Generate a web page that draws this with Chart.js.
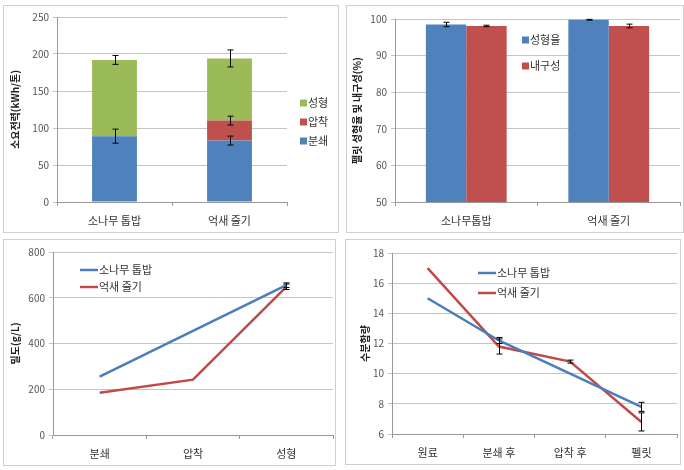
<!DOCTYPE html>
<html>
<head>
<meta charset="utf-8">
<script src="https://cdn.jsdelivr.net/npm/chart.js@4/dist/chart.umd.min.js"></script>
<style>
    body { margin: 0; background: #fff; }
    .frame { position: absolute; border: 1px solid #cfcfcf; box-sizing: border-box; }
    .frame canvas { display: block; }
</style>
</head>
<body>
<div class="frame" style="left:3px;top:5px;width:336px;height:228px"><canvas id="energyChart" width="334" height="226"></canvas></div>
<div class="frame" style="left:346px;top:5px;width:338px;height:228px"><canvas id="rateChart" width="336" height="226"></canvas></div>
<div class="frame" style="left:3px;top:239px;width:333px;height:227px"><canvas id="densityChart" width="331" height="225"></canvas></div>
<div class="frame" style="left:345px;top:239px;width:336px;height:226px"><canvas id="moistureChart" width="334" height="224"></canvas></div>
<script>
// chart 1: energy use (kWh/ton), stacked
const materials = ['소나무 톱밥', '억새 줄기'];
const crushEnergy = [89, 83];
const pressEnergy = [0, 27];
const formEnergy = [103, 84];
const crushEnergyErr = [9.5, 6];
const pressEnergyErr = [null, 6];
const formEnergyErr = [6, 11.5];

// chart 2: pellet forming rate and durability (%)
const rateMaterials = ['소나무톱밥', '억새 줄기'];
const formRate = [98.5, 99.8];
const durability = [98.1, 98.1];
const formRateErr = [0.6, 0.1];
const durabilityErr = [0.2, 0.5];

// chart 3: density (g/L)
const densitySteps = ['분쇄', '압착', '성형'];
const pineDensity = [255, null, 655];
const reedDensity = [185, 242, 648];
const pineDensityErr = [null, null, 10];
const reedDensityErr = [null, null, 12];

// chart 4: moisture content
const moistureSteps = ['원료', '분쇄 후', '압착 후', '펠릿'];
const pineMoisture = [15, 12.2, 10, 7.8];
const reedMoisture = [17, 11.8, 10.8, 6.8];
const pineMoistureErr = [null, 0.2, null, 0.3];
const reedMoistureErr = [null, 0.5, 0.1, 0.6];

const BLUE = '#4F81BD';
const RED = '#C0504D';
const GREEN = '#9BBB59';
const LINE_BLUE = '#4A7EBB';
const LINE_RED = '#BE4B48';
const FONT = "'Noto Sans CJK KR', 'DejaVu Sans', sans-serif";
const GRID = '#c4c4c4';

Chart.defaults.font.family = FONT;
Chart.defaults.color = '#404040';
Chart.defaults.animation = false;

// draws error bars from dataset.errors, using the y scale
const errorBars = {
    id: 'errorBars',
    afterDatasetsDraw(chart) {
        const ctx = chart.ctx;
        const y = chart.scales.y;
        ctx.save();
        ctx.strokeStyle = '#000';
        ctx.lineWidth = 1;
        chart.data.datasets.forEach((ds, di) => {
            if (!ds.errors) return;
            const meta = chart.getDatasetMeta(di);
            ds.errors.forEach((err, i) => {
                if (err == null || ds.data[i] == null) return;
                const el = meta.data[i];
                const half = Math.abs(y.getPixelForValue(0) - y.getPixelForValue(err));
                const cx = Math.round(el.x) + 0.5;
                ctx.beginPath();
                ctx.moveTo(cx, el.y - half);
                ctx.lineTo(cx, el.y + half);
                ctx.moveTo(cx - 3, el.y - half);
                ctx.lineTo(cx + 3, el.y - half);
                ctx.moveTo(cx - 3, el.y + half);
                ctx.lineTo(cx + 3, el.y + half);
                ctx.stroke();
            });
        });
        ctx.restore();
    }
};

// simple legend placed at a fixed spot inside the canvas
const spotLegend = {
    id: 'spotLegend',
    afterDraw(chart, args, opts) {
        const ctx = chart.ctx;
        let list = chart.data.datasets.map(ds => ds);
        if (opts.reverse) list = list.reverse();
        ctx.save();
        ctx.font = '11px ' + FONT;
        ctx.textBaseline = 'middle';
        list.forEach((ds, i) => {
            const yy = opts.y + i * opts.step;
            if (opts.marker === 'line') {
                ctx.strokeStyle = ds.borderColor;
                ctx.lineWidth = 2.5;
                ctx.beginPath();
                ctx.moveTo(opts.x, yy);
                ctx.lineTo(opts.x + 18, yy);
                ctx.stroke();
                ctx.fillStyle = '#333';
                ctx.fillText(ds.label, opts.x + 19, yy);
            } else {
                ctx.fillStyle = ds.backgroundColor;
                ctx.fillRect(opts.x, yy - 3.5, 7, 7);
                ctx.fillStyle = '#333';
                ctx.fillText(ds.label, opts.x + 8, yy);
            }
        });
        ctx.restore();
    }
};

function yAxis(min, max, step, title, width, titlePad) {
    return {
        min: min, max: max,
        ticks: { stepSize: step, font: { size: 10 }, color: '#555', padding: 4 },
        grid: { color: GRID, tickLength: 4, lineWidth: 1 },
        border: { color: '#999' },
        title: { display: true, text: title, font: { size: 10, weight: 'bold' }, color: '#222', padding: { top: titlePad, bottom: 4 } },
        afterFit: s => { s.width = width; }
    };
}

function xAxis(height, stacked) {
    return {
        stacked: !!stacked,
        ticks: { font: { size: 11 }, color: '#333', padding: 8 },
        grid: { offset: true, drawOnChartArea: false, tickLength: 4, color: '#999' },
        border: { color: '#999' },
        afterFit: s => { s.height = height; }
    };
}

new Chart(document.getElementById('energyChart'), {
    type: 'bar',
    data: {
        labels: materials,
        datasets: [
            { label: '분쇄', data: crushEnergy, errors: crushEnergyErr, backgroundColor: BLUE },
            { label: '압착', data: pressEnergy, errors: pressEnergyErr, backgroundColor: RED },
            { label: '성형', data: formEnergy, errors: formEnergyErr, backgroundColor: GREEN }
        ]
    },
    options: {
        responsive: false,
        layout: { padding: { left: 0, right: 51, top: 11, bottom: 0 } },
        datasets: { bar: { barPercentage: 1, categoryPercentage: 0.39 } },
        scales: {
            x: xAxis(30, true),
            y: Object.assign(yAxis(0, 250, 50, '소요전력(kWh/톤)', 53, 5), { stacked: true })
        },
        plugins: {
            legend: { display: false },
            tooltip: { enabled: false },
            spotLegend: { x: 296, y: 97, step: 19, marker: 'box', reverse: true }
        }
    },
    plugins: [errorBars, spotLegend]
});

new Chart(document.getElementById('rateChart'), {
    type: 'bar',
    data: {
        labels: rateMaterials,
        datasets: [
            { label: '성형율', data: formRate, errors: formRateErr, backgroundColor: BLUE },
            { label: '내구성', data: durability, errors: durabilityErr, backgroundColor: RED }
        ]
    },
    options: {
        responsive: false,
        layout: { padding: { left: 0, right: 3, top: 13, bottom: 0 } },
        datasets: { bar: { barPercentage: 1, categoryPercentage: 0.567 } },
        scales: {
            x: xAxis(30),
            y: yAxis(50, 100, 10, '펠릿 성형율 및 내구성(%)', 48, 4)
        },
        plugins: {
            legend: { display: false },
            tooltip: { enabled: false },
            spotLegend: { x: 175, y: 34, step: 26, marker: 'box' }
        }
    },
    plugins: [errorBars, spotLegend]
});

new Chart(document.getElementById('densityChart'), {
    type: 'line',
    data: {
        labels: densitySteps,
        datasets: [
            { label: '소나무 톱밥', data: pineDensity, errors: pineDensityErr, borderColor: LINE_BLUE, spanGaps: true },
            { label: '억새 줄기', data: reedDensity, errors: reedDensityErr, borderColor: LINE_RED }
        ]
    },
    options: {
        responsive: false,
        layout: { padding: { left: 0, right: 2, top: 12, bottom: 0 } },
        elements: { line: { borderWidth: 2.5, tension: 0 }, point: { radius: 0 } },
        scales: {
            x: Object.assign(xAxis(30), { offset: true }),
            y: yAxis(0, 800, 200, '밀도(g/L)', 49, 5)
        },
        plugins: {
            legend: { display: false },
            tooltip: { enabled: false },
            spotLegend: { x: 76, y: 30, step: 17, marker: 'line' }
        }
    },
    plugins: [errorBars, spotLegend]
});

new Chart(document.getElementById('moistureChart'), {
    type: 'line',
    data: {
        labels: moistureSteps,
        datasets: [
            { label: '소나무 톱밥', data: pineMoisture, errors: pineMoistureErr, borderColor: LINE_BLUE },
            { label: '억새 줄기', data: reedMoisture, errors: reedMoistureErr, borderColor: LINE_RED }
        ]
    },
    options: {
        responsive: false,
        layout: { padding: { left: 0, right: 3, top: 13, bottom: 0 } },
        elements: { line: { borderWidth: 2.5, tension: 0 }, point: { radius: 0 } },
        scales: {
            x: Object.assign(xAxis(30), { offset: true }),
            y: yAxis(6, 18, 2, '수분함량', 46, 13)
        },
        plugins: {
            legend: { display: false },
            tooltip: { enabled: false },
            spotLegend: { x: 132, y: 33, step: 20, marker: 'line' }
        }
    },
    plugins: [errorBars, spotLegend]
});
</script>
</body>
</html>
